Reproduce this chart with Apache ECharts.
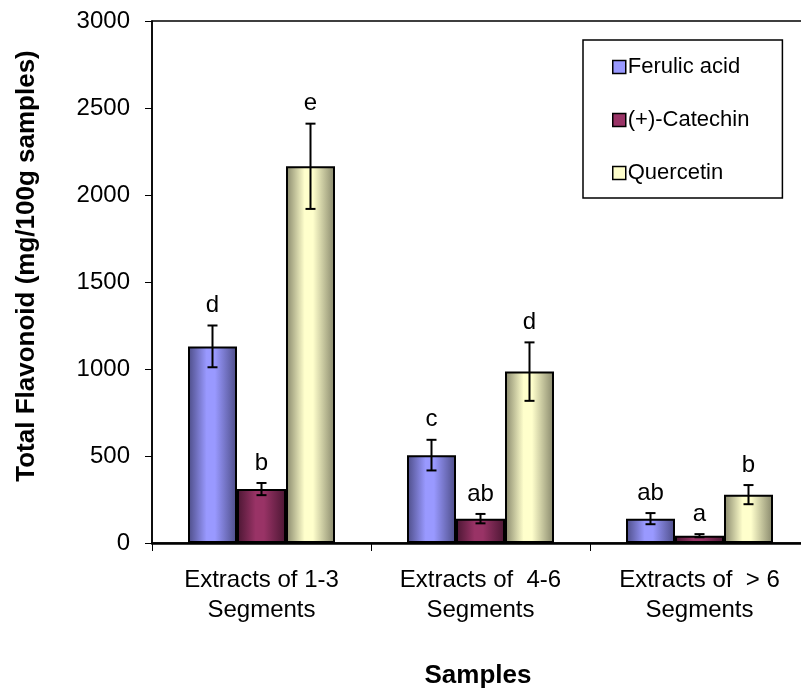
<!DOCTYPE html>
<html>
<head>
<meta charset="utf-8">
<script src="https://cdn.jsdelivr.net/npm/echarts@6/dist/echarts.min.js"></script>
<style>html,body{margin:0;padding:0;background:#fff;}#c{width:801px;height:698px;}</style>
</head>
<body>
<div id="c"></div>
<script>
const categories = ['Extracts of 1-3\nSegments', 'Extracts of  4-6\nSegments', 'Extracts of  > 6\nSegments'];
const seriesNames = ['Ferulic acid', '(+)-Catechin', 'Quercetin'];
const ferulic = [1130, 505, 140];
const ferulicErr = [120, 88, 32];
const ferulicLetters = ['d', 'c', 'ab'];
const catechin = [310, 140, 42];
const catechinErr = [35, 27, 9];
const catechinLetters = ['b', 'ab', 'a'];
const quercetin = [2165, 985, 278];
const quercetinErr = [245, 168, 55];
const quercetinLetters = ['e', 'd', 'b'];
const yTicks = [0, 500, 1000, 1500, 2000, 2500, 3000];

const FONT = 'Liberation Sans, Arial, sans-serif';
const BAR_W = 49;
const flat = ['#9999FF', '#993366', '#FFFFCC'];
const edge = ['#4c4c86', '#4a1632', '#86866a'];

function grad(i) {
  return {type: 'linear', x: 0, y: 0, x2: 1, y2: 0, colorStops: [
    {offset: 0, color: edge[i]},
    {offset: 0.38, color: flat[i]},
    {offset: 0.55, color: flat[i]},
    {offset: 1, color: edge[i]}
  ]};
}

function barSeries(i, vals) {
  return {
    name: seriesNames[i], type: 'bar', data: vals, barWidth: BAR_W, barGap: '0%',
    itemStyle: {color: grad(i), borderColor: '#000', borderWidth: 2}
  };
}

function errSeries(i, vals, errs, letters) {
  return {
    type: 'custom', z: 5, silent: true,
    data: vals.map((v, k) => [k, v, errs[k]]),
    renderItem: function (params, api) {
      const k = api.value(0), v = api.value(1), e = api.value(2);
      const c = api.coord([k, v]);
      const x = c[0] + (i - 1) * BAR_W;
      const top = api.coord([k, v + e])[1];
      const bot = api.coord([k, v - e])[1];
      const st = {stroke: '#000', lineWidth: 2};
      return {type: 'group', children: [
        {type: 'line', shape: {x1: x, y1: top, x2: x, y2: bot}, style: st},
        {type: 'line', shape: {x1: x - 5, y1: top, x2: x + 5, y2: top}, style: st},
        {type: 'line', shape: {x1: x - 5, y1: bot, x2: x + 5, y2: bot}, style: st},
        {type: 'text', x: x, y: top - 8, style: {text: letters[k], font: '24px ' + FONT, fill: '#000', align: 'center', verticalAlign: 'bottom'}}
      ]};
    }
  };
}

const chart = echarts.init(document.getElementById('c'));
chart.setOption({
  animation: false,
  backgroundColor: '#fff',
  grid: {left: 152, top: 21, right: -8, bottom: 155, outerBoundsMode: 'none', show: true, borderColor: '#000', borderWidth: 1.5, backgroundColor: 'transparent'},
  legend: {
    orient: 'vertical', left: 583, top: 40,
    borderColor: '#000', borderWidth: 1.5, padding: [15, 33, 13, 29],
    itemWidth: 13, itemHeight: 13, itemGap: 29, icon: 'rect',
    textStyle: {fontSize: 22, lineHeight: 24, color: '#000', fontFamily: FONT, padding: [0, 0, 0, -3]},
    data: seriesNames.map((n, i) => ({name: n, itemStyle: {color: flat[i], borderColor: '#000', borderWidth: 1.5}}))
  },
  xAxis: {
    type: 'category', data: categories,
    axisLine: {lineStyle: {color: '#000', width: 2.5}},
    axisTick: {show: true, length: 8, lineStyle: {color: '#000', width: 1}},
    axisLabel: {fontSize: 24, lineHeight: 30, color: '#000', fontFamily: FONT, margin: 22}
  },
  yAxis: {
    type: 'value', min: yTicks[0], max: yTicks[yTicks.length - 1], interval: yTicks[1] - yTicks[0],
    axisLine: {show: true, lineStyle: {color: '#000', width: 1.5}},
    axisTick: {show: true, length: 7, lineStyle: {color: '#000', width: 1}},
    splitLine: {show: false},
    axisLabel: {fontSize: 24, color: '#000', fontFamily: FONT, margin: 22, formatter: v => String(v)}
  },
  graphic: [
    {type: 'text', x: 27, y: 266, rotation: Math.PI / 2,
     style: {text: 'Total Flavonoid (mg/100g samples)', font: 'bold 26px ' + FONT, fill: '#000', align: 'center', verticalAlign: 'middle'}},
    {type: 'text', x: 478, y: 676,
     style: {text: 'Samples', font: 'bold 26px ' + FONT, fill: '#000', align: 'center', verticalAlign: 'middle'}}
  ],
  series: [
    barSeries(0, ferulic), barSeries(1, catechin), barSeries(2, quercetin),
    errSeries(0, ferulic, ferulicErr, ferulicLetters),
    errSeries(1, catechin, catechinErr, catechinLetters),
    errSeries(2, quercetin, quercetinErr, quercetinLetters)
  ]
});
</script>
</body>
</html>
